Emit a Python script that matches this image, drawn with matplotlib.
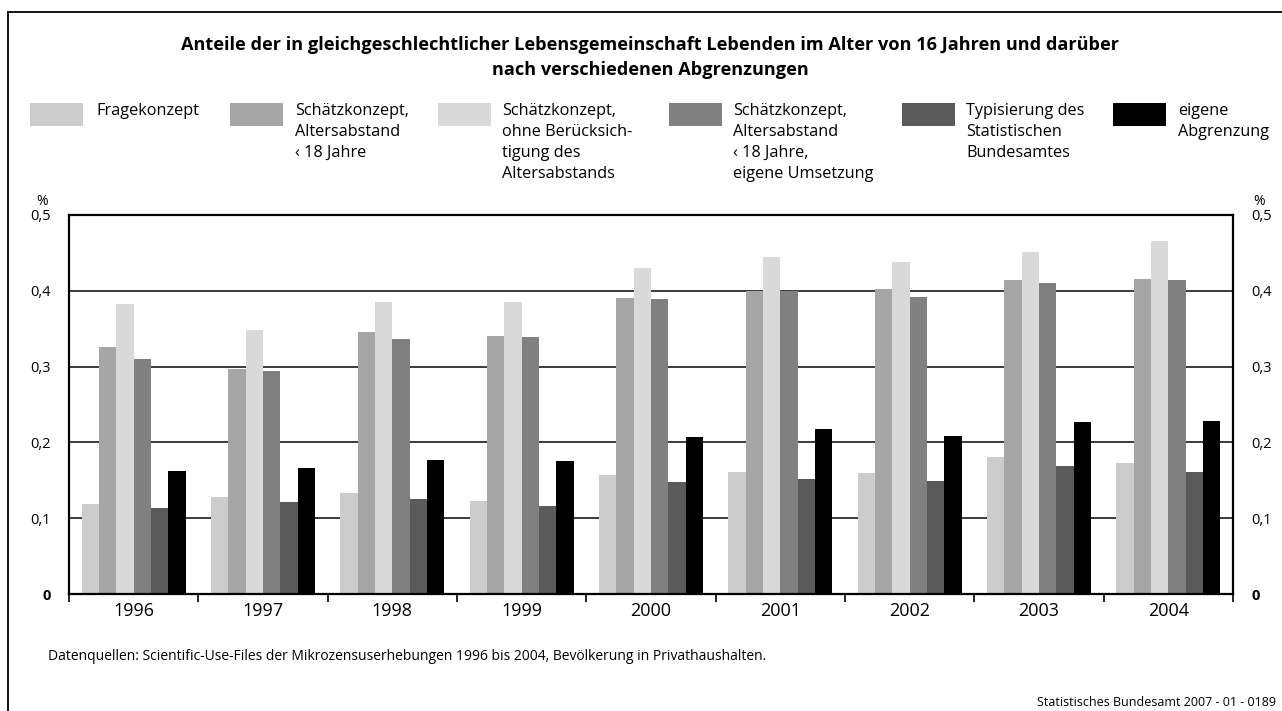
import matplotlib
matplotlib.use("Agg")
import matplotlib.pyplot as plt
from matplotlib.patches import Rectangle
from matplotlib.lines import Line2D
import numpy as np

plt.rcParams['font.family'] = ['Open Sans', 'DejaVu Sans']

years = ['1996', '1997', '1998', '1999', '2000', '2001', '2002', '2003', '2004']

fragekonzept = [0.119, 0.128, 0.133, 0.123, 0.157, 0.161, 0.160, 0.181, 0.173]
schaetz_18 = [0.326, 0.297, 0.346, 0.341, 0.390, 0.400, 0.402, 0.414, 0.416]
schaetz_ohne = [0.383, 0.348, 0.385, 0.385, 0.430, 0.445, 0.438, 0.451, 0.466]
schaetz_eigen = [0.310, 0.294, 0.336, 0.339, 0.389, 0.400, 0.392, 0.410, 0.414]
typisierung = [0.113, 0.121, 0.125, 0.116, 0.148, 0.152, 0.149, 0.169, 0.161]
eigene = [0.162, 0.166, 0.177, 0.175, 0.207, 0.218, 0.208, 0.227, 0.228]

series = [fragekonzept, schaetz_18, schaetz_ohne, schaetz_eigen, typisierung, eigene]
labels = ['Fragekonzept',
          'Schätzkonzept,\nAltersabstand\n‹ 18 Jahre',
          'Schätzkonzept,\nohne Berücksich-\ntigung des\nAltersabstands',
          'Schätzkonzept,\nAltersabstand\n‹ 18 Jahre,\neigene Umsetzung',
          'Typisierung des\nStatistischen\nBundesamtes',
          'eigene\nAbgrenzung']
colors = ['#cccccc', '#a6a6a6', '#d9d9d9', '#808080', '#5a5a5a', '#000000']

yticks = [0, 0.1, 0.2, 0.3, 0.4, 0.5]
ytick_labels = ['0', '0,1', '0,2', '0,3', '0,4', '0,5']

W, H = 1282, 711
fig = plt.figure(figsize=(W / 100, H / 100), dpi=100)


def fx(x):
    return x / W


def fy(y):
    return 1 - y / H


ax = fig.add_axes([fx(69), fy(594), (1233 - 69) / W, (594 - 215) / H])

n = len(series)
bw = 0.134
x = np.arange(len(years))
for i, (vals, c) in enumerate(zip(series, colors)):
    ax.bar(x + (i - (n - 1) / 2) * bw, vals, width=bw, color=c, zorder=2)

ax.set_xlim(-0.5, len(years) - 0.5)
ax.set_ylim(0, 0.5)

ax.set_xticks(np.arange(-0.5, len(years)), minor=False)
ax.set_xticklabels([])
ax.set_xticks(x, minor=True)
ax.set_xticklabels(years, minor=True, fontsize=13)
ax.tick_params(axis='x', which='major', direction='out', length=5.5, width=1.2, color='black')
ax.tick_params(axis='x', which='minor', length=0, pad=6)

ax.set_yticks(yticks)
ax.set_yticklabels(ytick_labels, fontsize=10.5)
ax.tick_params(axis='y', length=0, pad=13, labelleft=True, labelright=True)
for t in ax.yaxis.get_major_ticks():
    if t.label1.get_text() == '0':
        t.label1.set_fontweight('bold')
        t.label2.set_fontweight('bold')

for v in yticks[1:-1]:
    ax.axhline(v, color='#3a3a3a', lw=1.4, zorder=1)

for s in ax.spines.values():
    s.set_linewidth(1.6)
    s.set_color('black')
    s.set_zorder(3)

# % signs
fig.text(fx(42), fy(202), '%', ha='center', va='center', fontsize=10)
fig.text(fx(1259), fy(202), '%', ha='center', va='center', fontsize=10)

# title
fig.text(fx(650), fy(45), 'Anteile der in gleichgeschlechtlicher Lebensgemeinschaft Lebenden im Alter von 16 Jahren und darüber',
         ha='center', va='center', fontsize=13.1, fontweight='bold')
fig.text(fx(650), fy(70), 'nach verschiedenen Abgrenzungen',
         ha='center', va='center', fontsize=13.1, fontweight='bold')

# legend
patch_x = [30, 230, 438, 669, 902, 1113]
text_x = [96, 295, 502, 733, 966, 1178]
for px, tx, lab, c in zip(patch_x, text_x, labels, colors):
    fig.patches.append(Rectangle((fx(px), fy(126)), 53 / W, 23 / H,
                                 transform=fig.transFigure, facecolor=c, edgecolor='none'))
    fig.text(fx(tx), fy(103), lab, ha='left', va='top', fontsize=11.7, linespacing=1.42)

# source and footer
fig.text(fx(48), fy(656), 'Datenquellen: Scientific-Use-Files der Mikrozensuserhebungen 1996 bis 2004, Bevölkerung in Privathaushalten.',
         ha='left', va='center', fontsize=10)
fig.text(fx(1276), fy(702), 'Statistisches Bundesamt 2007 - 01 - 0189',
         ha='right', va='center', fontsize=9)

# frame
fig.add_artist(Line2D([fx(8), fx(8)], [fy(12), 0], transform=fig.transFigure, color='black', lw=1.3))
fig.add_artist(Line2D([fx(8), 1], [fy(12), fy(12)], transform=fig.transFigure, color='black', lw=1.3))

fig.savefig('out.png', dpi=100)
